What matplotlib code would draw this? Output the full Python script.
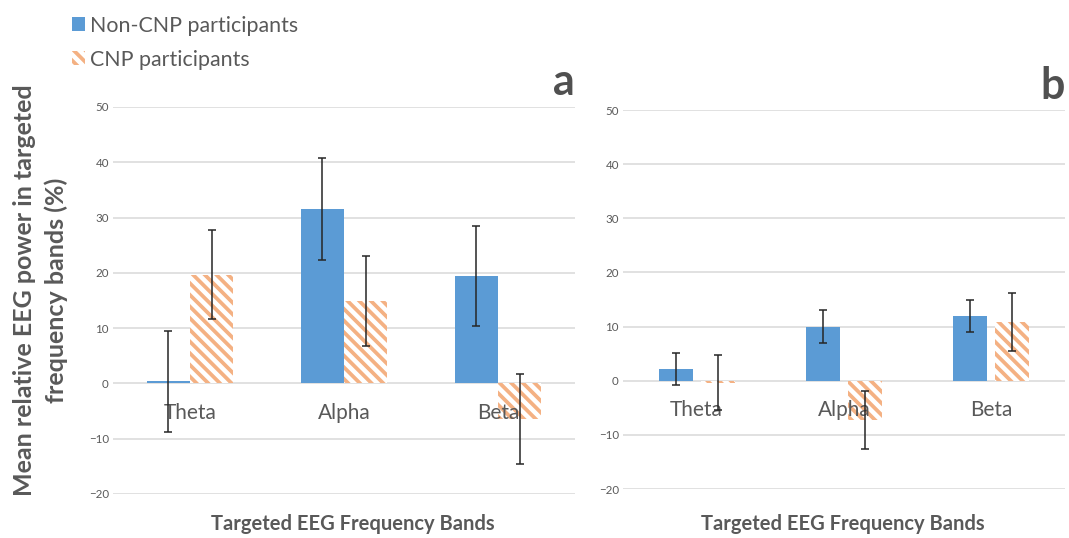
import matplotlib.pyplot as plt
from matplotlib.patches import Patch
import numpy as np

plt.rcParams['font.family'] = ['Lato', 'DejaVu Sans']

# data
bands = ['Theta', 'Alpha', 'Beta']
series_names = ['Non-CNP participants', 'CNP participants']

# panel a
a_noncnp = [0.4, 31.6, 19.4]
a_noncnp_err = [9.1, 9.2, 9.0]
a_cnp = [19.7, 14.9, -6.4]
a_cnp_err = [8.1, 8.1, 8.1]

# panel b
b_noncnp = [2.2, 10.0, 12.0]
b_noncnp_err = [3.0, 3.0, 3.0]
b_cnp = [-0.4, -7.3, 10.8]
b_cnp_err = [5.1, 5.4, 5.4]

yticks = [-20, -10, 0, 10, 20, 30, 40, 50]

blue = '#5B9BD5'
orange = '#F4B183'
grey = '#595959'
W, H = 1069, 538
DPI = 140            # hatch spacing is tied to dpi, so draw at 140
S = 100 / DPI        # sizes below are given as if dpi were 100
HATCH = '\\' * 4

plt.rcParams['hatch.linewidth'] = 2.7 * S

fig = plt.figure(figsize=(W / DPI, H / DPI), dpi=DPI)

def px_axes(x0, x1, ytop, ybot):
    return fig.add_axes([x0 / W, 1 - ybot / H, (x1 - x0) / W, (ybot - ytop) / H])

ax_a = px_axes(113, 575, 107, 494)
ax_b = px_axes(623, 1065, 110, 489)

def draw_panel(ax, v1, e1, v2, e2, width, gap, tag, xlab_x):
    x = np.arange(len(bands))
    off = width / 2 + gap / 2
    ax.bar(x - off, v1, width, color=blue, zorder=2)
    ax.bar(x + off, v2, width, facecolor='white', edgecolor=orange,
           linewidth=0, hatch=HATCH, zorder=2)
    for xs, v, e in [(x - off, v1, e1), (x + off, v2, e2)]:
        ax.errorbar(xs, v, yerr=e, fmt='none', ecolor='#262626',
                    elinewidth=1.1 * S, capsize=3 * S, capthick=1.1 * S, zorder=5)
    ax.set_xlim(-0.5, len(bands) - 0.5)
    ax.set_ylim(-20, 50)
    ax.set_yticks(yticks)
    ax.yaxis.grid(True, color='#d9d9d9', linewidth=1.1 * S, zorder=0)
    ax.set_axisbelow(True)
    for s in ax.spines.values():
        s.set_visible(False)
    ax.set_xticks([])
    ax.tick_params(axis='y', length=0, labelsize=8.3 * S, labelcolor=grey, pad=3 * S)
    for i, b in enumerate(bands):
        ax.annotate(b, (i, 0), xytext=(0, -21 * S), textcoords='offset points',
                    ha='center', va='center', fontsize=15 * S, color=grey, zorder=4)
    ax.text(1.0, 1.03, tag, transform=ax.transAxes, ha='right', va='baseline',
            fontsize=31 * S, fontweight='bold', color='#505050')
    fig.text(xlab_x / W, 1 - 524 / H, 'Targeted EEG Frequency Bands',
             ha='center', va='center', fontsize=14.5 * S, fontweight='bold', color=grey)

draw_panel(ax_a, a_noncnp, a_noncnp_err, a_cnp, a_cnp_err, 0.28, 0.0, 'a', 353)
draw_panel(ax_b, b_noncnp, b_noncnp_err, b_cnp, b_cnp_err, 0.23, 0.055, 'b', 843)

fig.text(25 / W, 1 - 290 / H, 'Mean relative EEG power in targeted', rotation=90,
         ha='center', va='center', fontsize=18 * S, fontweight='bold', color=grey)
fig.text(56 / W, 1 - 290 / H, 'frequency bands (%)', rotation=90,
         ha='center', va='center', fontsize=18 * S, fontweight='bold', color=grey)

handles = [Patch(facecolor=blue, edgecolor='none'),
           Patch(facecolor='white', edgecolor=orange, linewidth=0, hatch=HATCH)]
fig.legend(handles, series_names, loc='upper left', bbox_to_anchor=(61 / W, 1 - 5 / H),
           frameon=False, fontsize=15.4 * S, handlelength=0.6, handleheight=0.6,
           handletextpad=0.25, labelspacing=0.65, labelcolor=grey, borderpad=0)

fig.savefig('out.png', dpi=DPI)
